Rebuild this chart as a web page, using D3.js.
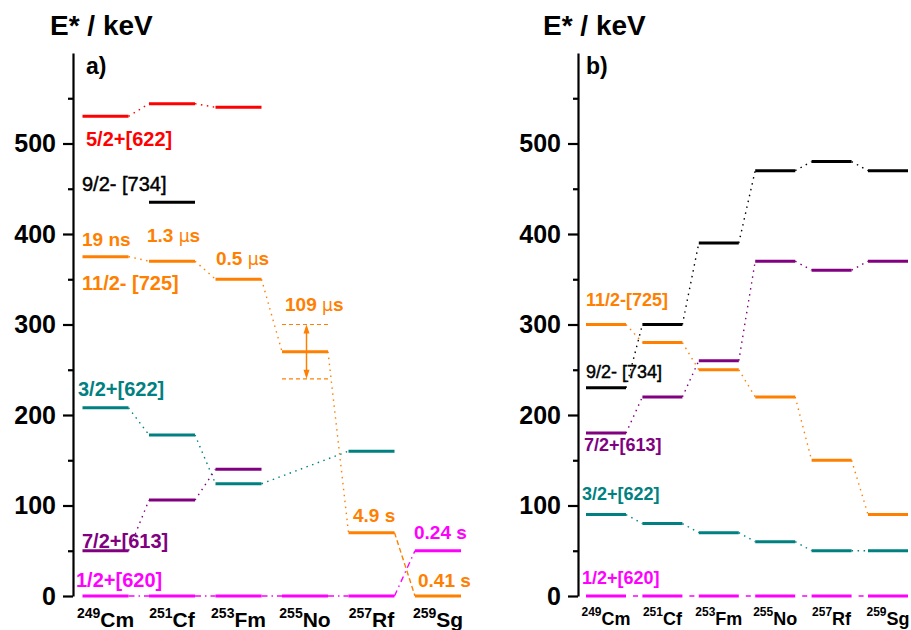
<!DOCTYPE html>
<html><head><meta charset="utf-8">
<script src="https://cdn.jsdelivr.net/npm/d3@7"></script>
<style>body{margin:0;background:#fff}svg{display:block;font-family:"Liberation Sans",Arial,sans-serif}</style>
</head><body><svg id="c" width="911" height="630"></svg>
<script>
// ---------- data ----------
const massNumbers = ["249","251","253","255","257","259"];
const elements    = ["Cm","Cf","Fm","No","Rf","Sg"];
const yTicks      = [0,100,200,300,400,500];
const yMinorTicks = [50,150,250,350,450,550];

// panel a (keV, null = no level)
const aRed     = [530, 544, 540, null, null, null];
const aBlack   = [null, 435, null, null, null, null];
const aOrange  = [375, 370, 350, 270, 70, 0];
const aTeal    = [208, 178, 124, null, 160, null];
const aPurple  = [50, 106, 140, null, null, null];
const aMagenta = [0, 0, 0, 0, 0, 50];
const aNoError = [240, 300];           // uncertainty band of 255No level
// panel b
const bBlack   = [230, 300, 390, 470, 480, 470];
const bPurple  = [180, 220, 260, 370, 360, 370];
const bOrange  = [300, 280, 250, 220, 150, 90];
const bTeal    = [90, 80, 70, 60, 50, 50];
const bMagenta = [0, 0, 0, 0, 0, 0];

const C = {red:"#ff0000", black:"#000000", orange:"#ff8000", teal:"#008080", purple:"#800080", magenta:"#ff00ff"};

const svg = d3.select("#c");
const y = d3.scaleLinear().domain([0,600]).range([596,53]);

function axis(x0){
  const g = svg.append("g").attr("transform",`translate(${x0},0)`);
  g.call(d3.axisLeft(y).tickValues(yTicks).tickSize(10).tickSizeOuter(0).tickPadding(7).tickFormat(d3.format("d")));
  g.append("g").call(d3.axisLeft(y).tickValues(yMinorTicks).tickSize(5).tickSizeOuter(0).tickFormat(""))
    .select(".domain").remove();
  g.selectAll("path,line").attr("stroke","#000").attr("stroke-width",2.2);
  g.selectAll("text").attr("font-size",25).attr("font-weight","bold").attr("fill","#000")
    .attr("font-family","Liberation Sans, Arial, sans-serif");
}

function series(x, hw, vals, color, dash){
  const pts = elements.map((e,i)=>({e, v: vals[i]})).filter(d=>d.v!==null);
  const g = svg.append("g");
  for(let k=0;k<pts.length-1;k++){
    const p=pts[k], q=pts[k+1];
    g.append("line").attr("x1",x(p.e)+hw).attr("y1",y(p.v)).attr("x2",x(q.e)-hw).attr("y2",y(q.v))
      .attr("stroke",color).attr("stroke-width",1.4).attr("stroke-dasharray",dash);
  }
  g.selectAll("line.lv").data(pts).enter().append("line").attr("class","lv")
    .attr("x1",d=>x(d.e)-hw).attr("x2",d=>x(d.e)+hw).attr("y1",d=>y(d.v)).attr("y2",d=>y(d.v))
    .attr("stroke",color).attr("stroke-width",3);
}

function label(xp, yp, txt, color, size, bold){
  const t = svg.append("text").attr("x",xp).attr("y",yp).attr("fill",color).attr("font-size",size)
    .attr("font-weight",bold?"bold":"normal");
  if(!bold) t.attr("stroke",color).attr("stroke-width",0.45);
  const parts = txt.split("μ");
  parts.forEach((p,i)=>{
    if(i>0) t.append("tspan").attr("font-weight","normal").attr("font-family","DejaVu Sans, sans-serif").attr("font-size",size*0.9).text("μ");
    t.append("tspan").text(p);
  });
  return t;
}

function xLabels(x, supSize, mainSize, base){
  elements.forEach((e,i)=>{
    const t = svg.append("text").attr("x",x(e)).attr("y",base).attr("text-anchor","middle").attr("font-weight","bold").attr("fill","#000");
    t.append("tspan").attr("font-size",supSize).attr("dy",-9).text(massNumbers[i]);
    t.append("tspan").attr("font-size",mainSize).attr("dy",9).text(e);
  });
}

const dot = "1.5,4.5";
// ---------- panel a ----------
const xa = d3.scalePoint().domain(elements).range([105.5,438]);
const hwa = 23;
axis(73);
series(xa,hwa,aRed,C.red,dot);
series(xa,hwa,aBlack,C.black,dot);
series(xa,hwa,aTeal,C.teal,dot);
series(xa,hwa,aPurple,C.purple,dot);
series(xa,hwa,aMagenta,C.magenta,"6,4,1.5,4");
// orange with mixed styles
(function(){
  const pts = elements.map((e,i)=>({e,v:aOrange[i]}));
  for(let k=0;k<pts.length-1;k++){
    const p=pts[k], q=pts[k+1];
    svg.append("line").attr("x1",xa(p.e)+hwa).attr("y1",y(p.v)).attr("x2",xa(q.e)-hwa).attr("y2",y(q.v))
      .attr("stroke",C.orange).attr("stroke-width",1.4).attr("stroke-dasharray",k===4?"5,3":dot);
  }
  svg.selectAll("line.ao").data(pts).enter().append("line").attr("class","ao")
    .attr("x1",d=>xa(d.e)-hwa).attr("x2",d=>xa(d.e)+hwa).attr("y1",d=>y(d.v)).attr("y2",d=>y(d.v))
    .attr("stroke",C.orange).attr("stroke-width",3);
  // error band on 255No
  const xc = xa("No")+1.5, yl = y(aOrange[3]);
  aNoError.forEach(v=>{
    svg.append("line").attr("x1",xa("No")-hwa).attr("x2",xa("No")+hwa).attr("y1",y(v)).attr("y2",y(v))
      .attr("stroke",C.orange).attr("stroke-width",1.2).attr("stroke-dasharray","4,3");
    const ye = y(v), dir = ye<yl?1:-1;
    svg.append("line").attr("x1",xc).attr("x2",xc).attr("y1",yl).attr("y2",ye+dir*3)
      .attr("stroke",C.orange).attr("stroke-width",1.5);
    svg.append("path").attr("d",`M${xc},${ye} L${xc-3},${ye+dir*9} L${xc+3},${ye+dir*9} Z`).attr("fill",C.orange);
  });
})();

label(50,35,"E* / keV","#000",28,true);
label(86,74,"a)","#000",23,true);
label(86,146,"5/2+[622]",C.red,20,true);
label(82,191,"9/2- [734]",C.black,20,false);
label(82,246,"19 ns",C.orange,19,true);
label(147,242,"1.3 μs",C.orange,19,true);
label(216,265,"0.5 μs",C.orange,19,true);
label(82,290,"11/2- [725]",C.orange,20,true);
label(285,311,"109 μs",C.orange,19,true);
label(78,396,"3/2+[622]",C.teal,20,true);
label(82,548,"7/2+[613]",C.purple,20,true);
label(76,587,"1/2+[620]",C.magenta,20,true);
label(353,522,"4.9 s",C.orange,19,true);
label(414,539,"0.24 s",C.magenta,19,true);
label(418,587,"0.41 s",C.orange,19,true);
xLabels(xa,14,21,627);

// ---------- panel b ----------
const xb = d3.scalePoint().domain(elements).range([606,888]);
const hwb = 20;
axis(578);
series(xb,hwb,bBlack,C.black,dot);
series(xb,hwb,bPurple,C.purple,dot);
series(xb,hwb,bOrange,C.orange,dot);
series(xb,hwb,bTeal,C.teal,dot);
series(xb,hwb,bMagenta,C.magenta,"0,7,5,100");

label(543,35,"E* / keV","#000",28,true);
label(586,74,"b)","#000",23,true);
label(586,306,"11/2-[725]",C.orange,18,true);
label(586,378,"9/2- [734]",C.black,18,false);
label(584,451,"7/2+[613]",C.purple,18,true);
label(582,500,"3/2+[622]",C.teal,18,true);
label(582,584,"1/2+[620]",C.magenta,18,true);
xLabels(xb,12,18,625);
</script></body></html>
